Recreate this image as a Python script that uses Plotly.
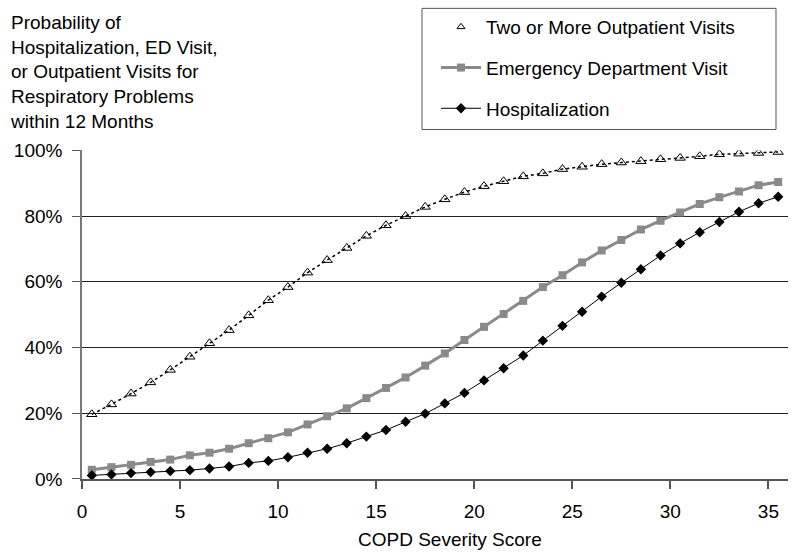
import plotly.graph_objects as go

scores = [i + 0.5 for i in range(36)]

outpatient = [0.197, 0.227, 0.260, 0.294, 0.332, 0.372, 0.413, 0.453, 0.498, 0.544,
              0.584, 0.628, 0.666, 0.703, 0.740, 0.772, 0.800, 0.828, 0.851, 0.873,
              0.891, 0.906, 0.921, 0.930, 0.943, 0.950, 0.958, 0.963, 0.967, 0.973,
              0.977, 0.982, 0.988, 0.990, 0.992, 0.995]

ed_visit = [0.028, 0.036, 0.043, 0.052, 0.059, 0.072, 0.080, 0.092, 0.109, 0.124,
            0.142, 0.166, 0.191, 0.215, 0.246, 0.277, 0.309, 0.345, 0.382, 0.423,
            0.463, 0.502, 0.542, 0.584, 0.620, 0.659, 0.695, 0.727, 0.759, 0.786,
            0.811, 0.837, 0.857, 0.875, 0.894, 0.904]

hospital = [0.011, 0.014, 0.018, 0.021, 0.024, 0.027, 0.032, 0.038, 0.049, 0.055,
            0.066, 0.080, 0.092, 0.109, 0.129, 0.149, 0.174, 0.199, 0.230, 0.262,
            0.300, 0.337, 0.376, 0.421, 0.466, 0.509, 0.555, 0.597, 0.638, 0.680,
            0.717, 0.751, 0.782, 0.813, 0.839, 0.859]

x_ticks = [0, 5, 10, 15, 20, 25, 30, 35]
y_ticks = [0, 0.2, 0.4, 0.6, 0.8, 1.0]

FONT = "Liberation Sans, Arial, sans-serif"
L, T, PW, PH = 82, 148, 706, 331  # plot area in pixels


def px_x(p):
    return (p - L) / PW


def px_y(p):
    return 1 + (T - p) / PH


fig = go.Figure()
fig.add_trace(go.Scatter(
    x=scores, y=outpatient, mode="lines+markers", name="Two or More Outpatient Visits",
    legendgroup="a", showlegend=False,
    line=dict(color="black", width=1.5, dash="dot"),
    marker=dict(symbol="triangle-up-open", size=9, color="black", line=dict(width=1, color="black")),
))
# legend entry for outpatient visits shows only the open triangle, as in the reference
fig.add_trace(go.Scatter(
    x=[None], y=[None], mode="markers", name="Two or More Outpatient Visits",
    legendgroup="a", showlegend=True,
    marker=dict(symbol="triangle-up-open", size=7, color="black", line=dict(width=1, color="black")),
))
fig.add_trace(go.Scatter(
    x=scores, y=ed_visit, mode="lines+markers", name="Emergency Department Visit",
    legendgroup="b",
    line=dict(color="#8a8a8a", width=3),
    marker=dict(symbol="square", size=8, color="#8a8a8a"),
))
fig.add_trace(go.Scatter(
    x=scores, y=hospital, mode="lines+markers", name="Hospitalization",
    legendgroup="c",
    line=dict(color="black", width=1),
    marker=dict(symbol="diamond", size=8, color="black"),
))

fig.update_layout(
    width=800, height=553,
    margin=dict(l=L, r=800 - L - PW, t=T, b=553 - T - PH),
    paper_bgcolor="white", plot_bgcolor="white",
    font=dict(family=FONT, size=18, color="black"),
    showlegend=True,
    legend=dict(
        xref="paper", yref="container",
        x=px_x(436), y=1 - 8 / 553, xanchor="left", yanchor="top",
        bgcolor="rgba(0,0,0,0)", borderwidth=0,
        font=dict(family=FONT, size=19, color="black"),
        traceorder="grouped", tracegroupgap=13,
        itemwidth=40,
    ),
    shapes=[
        dict(type="rect", xref="paper", yref="paper",
             x0=px_x(422), x1=px_x(776), y0=px_y(127), y1=px_y(5),
             line=dict(color="#555555", width=1), fillcolor="white", layer="below"),
    ],
    xaxis=dict(
        range=[0, 36], tickvals=x_ticks, ticktext=[str(v) for v in x_ticks],
        showgrid=False, zeroline=False,
        showline=True, linecolor="#555555", linewidth=1.5,
        ticks="outside", ticklen=8, tickcolor="#555555", tickwidth=1.5,
        ticklabelstandoff=6,
        tickfont=dict(family=FONT, size=19, color="black"),
    ),
    yaxis=dict(
        range=[0, 1.0], tickvals=y_ticks, tickformat=".0%",
        showgrid=True, gridcolor="#222222", gridwidth=1.2,
        zeroline=False,
        showline=True, linecolor="#777777", linewidth=1.5,
        ticks="outside", ticklen=8, tickcolor="#555555", tickwidth=1.2,
        ticklabelstandoff=6,
        tickfont=dict(family=FONT, size=19, color="black"),
    ),
    annotations=[
        dict(text="Probability of<br>Hospitalization, ED Visit,<br>or Outpatient Visits for<br>Respiratory Problems<br>within 12 Months",
             xref="paper", yref="paper", x=px_x(8), y=px_y(7),
             xanchor="left", yanchor="top", align="left", showarrow=False,
             font=dict(family=FONT, size=19, color="black")),
        dict(text="COPD Severity Score", xref="paper", yref="paper",
             x=px_x(450), y=px_y(540), xanchor="center", yanchor="middle",
             showarrow=False, font=dict(family=FONT, size=19, color="black")),
    ],
)

fig.write_html("out.html", config={"displayModeBar": False},
               post_script="document.body.style.margin='0';")
